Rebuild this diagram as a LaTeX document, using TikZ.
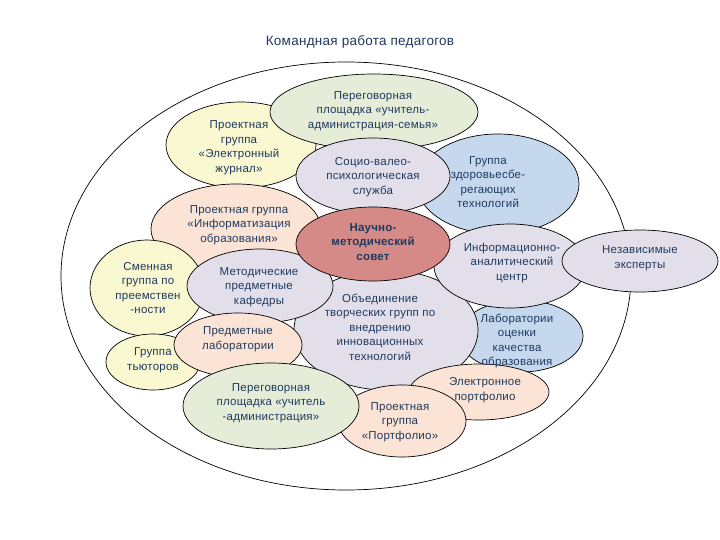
\documentclass[tikz,border=0pt]{standalone}
\usepackage{fontspec}
\setmainfont{Liberation Sans}[LetterSpace=2]
\usetikzlibrary{shapes.geometric}
\definecolor{navy}{HTML}{1F3A5F}
\definecolor{cyel}{HTML}{FAF8D0}
\definecolor{cgrn}{HTML}{E5ECD8}
\definecolor{clav}{HTML}{E3DFEA}
\definecolor{cblu}{HTML}{C6D8EE}
\definecolor{cpch}{HTML}{FBE4D5}
\definecolor{cred}{HTML}{D58A88}
\tikzset{
  bub/.style={ellipse, draw=black, line width=0.7pt, inner sep=0pt},
  txt/.style={align=center, text=navy, inner sep=0pt, font=\fontsize{11.5}{14.5}\selectfont},
}
\begin{document}
\begin{tikzpicture}[x=1pt,y=-1pt]
\useasboundingbox[fill=white] (0,0) rectangle (720,540);
\node[txt, font=\fontsize{13.5}{15}\selectfont] (title) at (360,42) {Командная работа педагогов};
\node[bub, fill=white, minimum width=570pt, minimum height=428pt] (outer) at (346,276) {};
% ellipses, back to front
\node[bub, fill=cyel, minimum width=150pt, minimum height=86pt] (zhurnal) at (241,145) {};
\node[bub, fill=cgrn, minimum width=208pt, minimum height=76pt] (semya) at (374,112) {};
\node[bub, fill=cblu, minimum width=162pt, minimum height=100pt] (zdorov) at (498,184) {};
\node[bub, fill=clav, minimum width=154pt, minimum height=76pt] (socio) at (373,176) {};
\node[bub, fill=cpch, minimum width=170pt, minimum height=90pt] (inform) at (236,229) {};
\node[bub, fill=cyel, minimum width=114pt, minimum height=96pt] (smena) at (147,288) {};
\node[bub, fill=cyel, minimum width=94pt, minimum height=56pt] (tyutor) at (153,362) {};
\node[bub, fill=cblu, minimum width=124pt, minimum height=72pt] (lab) at (521,336) {};
\node[bub, fill=clav, minimum width=184pt, minimum height=120pt] (obed) at (386,330) {};
\node[bub, fill=clav, minimum width=152pt, minimum height=84pt] (info) at (510,266) {};
\node[bub, fill=clav, minimum width=146pt, minimum height=74pt] (metod) at (260,286) {};
\node[bub, fill=cred, minimum width=154pt, minimum height=74pt] (sovet) at (373,244) {};
\node[bub, fill=cpch, minimum width=128pt, minimum height=64pt] (predm) at (238,345) {};
\node[bub, fill=cpch, minimum width=140pt, minimum height=56pt] (eport) at (479,392) {};
\node[bub, fill=cpch, minimum width=128pt, minimum height=72pt] (portf) at (402,421) {};
\node[bub, fill=cgrn, minimum width=176pt, minimum height=86pt] (admin) at (271,406) {};
\node[bub, fill=clav, minimum width=156pt, minimum height=62pt] (nezav) at (640,261) {};
% texts
\node[txt] (semya-t) at (373,111) {Переговорная\\площадка «учитель-\\администрация-семья»};
\node[txt] (zhurnal-t) at (239,147.5) {Проектная\\группа\\«Электронный\\журнал»};
\node[txt] (socio-t) at (373,177) {Социо-валео-\\психологическая\\служба};
\node[txt] (zdorov-t) at (488,182) {Группа\\здоровьесбе-\\регающих\\технологий};
\node[txt] (inform-t) at (239,225) {Проектная группа\\«Информатизация\\образования»};
\node[txt, font=\bfseries\fontsize{11.5}{14.5}\selectfont] (sovet-t) at (373,242) {Научно-\\методический\\совет};
\node[txt] (info-t) at (512,263) {Информационно-\\аналитический\\центр};
\node[txt] (nezav-t) at (640,258) {Независимые\\эксперты};
\node[txt] (smena-t) at (148,288) {Сменная\\группа по\\преемствен\\-ности};
\node[txt] (metod-t) at (259,287) {Методические\\предметные\\кафедры};
\node[txt] (obed-t) at (380,327) {Объединение\\творческих групп по\\внедрению\\инновационных\\технологий};
\node[txt] (lab-t) at (517,341) {Лаборатории\\оценки\\качества\\образования};
\node[txt] (predm-t) at (238,339) {Предметные\\лаборатории};
\node[txt] (tyutor-t) at (153,360) {Группа\\тьюторов};
\node[txt] (admin-t) at (271,403) {Переговорная\\площадка «учитель\\-администрация»};
\node[txt] (eport-t) at (485,390) {Электронное\\портфолио};
\node[txt] (portf-t) at (400,422) {Проектная\\группа\\«Портфолио»};
\end{tikzpicture}
\end{document}
